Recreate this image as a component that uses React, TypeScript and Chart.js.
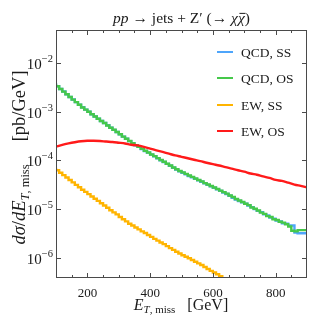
import React, { useEffect, useRef } from 'react';
import { Chart, registerables } from 'chart.js';
Chart.register(...registerables);

const SERIF = '"Liberation Serif", "DejaVu Serif", serif';

// Histogram bin edges (GeV), 10 GeV bins from 100 to 900
const binEdges: number[] = Array.from({ length: 81 }, (_, i) => 100 + 10 * i);

// QCD, OS  (pb/GeV) per bin
const qcdOS: number[] = [
  3.80e-3, 3.35e-3, 2.95e-3, 2.60e-3, 2.29e-3, 2.02e-3, 1.78e-3, 1.58e-3, 1.40e-3, 1.23e-3,
  1.11e-3, 1.00e-3, 8.9e-4, 8.0e-4, 7.2e-4, 6.5e-4, 5.9e-4, 5.25e-4, 4.7e-4, 4.27e-4,
  3.85e-4, 3.47e-4, 3.09e-4, 2.79e-4, 2.51e-4, 2.26e-4, 2.07e-4, 1.91e-4, 1.74e-4, 1.58e-4,
  1.46e-4, 1.33e-4, 1.23e-4, 1.12e-4, 1.02e-4, 9.4e-5, 8.6e-5, 7.9e-5, 7.2e-5, 6.6e-5,
  6.1e-5, 5.7e-5, 5.3e-5, 4.9e-5, 4.6e-5, 4.27e-5, 3.98e-5, 3.72e-5, 3.43e-5, 3.2e-5,
  2.99e-5, 2.79e-5, 2.6e-5, 2.4e-5, 2.24e-5, 2.09e-5, 1.91e-5, 1.78e-5, 1.62e-5, 1.51e-5,
  1.40e-5, 1.29e-5, 1.21e-5, 1.08e-5, 1.02e-5, 9.4e-6, 8.5e-6, 8.0e-6, 7.2e-6, 6.9e-6,
  6.2e-6, 6.0e-6, 5.5e-6, 5.3e-6, 4.9e-6, 4.4e-6, 3.6e-6, 3.5e-6, 3.7e-6, 3.7e-6,
];

// QCD, SS
const qcdSS: number[] = [
  3.80e-3, 3.36e-3, 2.95e-3, 2.61e-3, 2.29e-3, 2.02e-3, 1.79e-3, 1.58e-3, 1.40e-3, 1.24e-3,
  1.11e-3, 1.00e-3, 8.9e-4, 8.0e-4, 7.2e-4, 6.5e-4, 5.9e-4, 5.3e-4, 4.7e-4, 4.25e-4,
  3.85e-4, 3.45e-4, 3.1e-4, 2.8e-4, 2.5e-4, 2.25e-4, 2.05e-4, 1.9e-4, 1.72e-4, 1.57e-4,
  1.45e-4, 1.32e-4, 1.22e-4, 1.11e-4, 1.01e-4, 9.3e-5, 8.5e-5, 7.8e-5, 7.1e-5, 6.5e-5,
  6.0e-5, 5.6e-5, 5.2e-5, 4.8e-5, 4.5e-5, 4.2e-5, 3.9e-5, 3.65e-5, 3.4e-5, 3.15e-5,
  2.95e-5, 2.75e-5, 2.55e-5, 2.38e-5, 2.2e-5, 2.05e-5, 1.88e-5, 1.72e-5, 1.58e-5, 1.47e-5,
  1.38e-5, 1.30e-5, 1.19e-5, 1.10e-5, 1.00e-5, 9.2e-6, 8.7e-6, 7.8e-6, 7.4e-6, 6.7e-6,
  6.4e-6, 5.8e-6, 5.6e-6, 5.1e-6, 5.0e-6, 4.6e-6, 4.6e-6, 3.3e-6, 3.2e-6, 3.2e-6,
];

// EW, SS
const ewSS: number[] = [
  7.1e-5, 6.3e-5, 5.6e-5, 5.0e-5, 4.47e-5, 3.98e-5, 3.55e-5, 3.16e-5, 2.82e-5, 2.51e-5,
  2.26e-5, 2.04e-5, 1.82e-5, 1.64e-5, 1.48e-5, 1.32e-5, 1.19e-5, 1.07e-5, 9.5e-6, 8.6e-6,
  7.8e-6, 6.9e-6, 6.2e-6, 5.6e-6, 5.0e-6, 4.6e-6, 4.2e-6, 3.85e-6, 3.5e-6, 3.24e-6,
  2.95e-6, 2.69e-6, 2.45e-6, 2.26e-6, 2.07e-6, 1.91e-6, 1.74e-6, 1.58e-6, 1.46e-6, 1.33e-6,
  1.23e-6, 1.13e-6, 1.05e-6, 9.8e-7, 9.0e-7, 8.3e-7, 7.7e-7, 7.1e-7, 6.5e-7, 5.9e-7,
  5.4e-7, 5.0e-7, 4.6e-7, 4.2e-7, 3.8e-7, 3.5e-7, 3.2e-7, 2.9e-7, 2.66e-7, 2.45e-7,
  2.24e-7, 2.05e-7, 1.88e-7, 1.72e-7, 1.58e-7, 1.45e-7, 1.33e-7, 1.22e-7, 1.12e-7, 1.02e-7,
  9.4e-8, 8.6e-8, 7.9e-8, 7.2e-8, 6.6e-8, 6.1e-8, 5.6e-8, 5.1e-8, 4.7e-8, 4.3e-8,
];

// EW, OS (smooth curve), sampled every 20 GeV
const ewOSE: number[] = Array.from({ length: 41 }, (_, i) => 100 + 20 * i);
const ewOS: number[] = [
  1.91e-4, 2.09e-4, 2.24e-4, 2.37e-4, 2.48e-4, 2.54e-4, 2.54e-4, 2.51e-4, 2.45e-4, 2.40e-4,
  2.32e-4, 2.24e-4, 2.11e-4, 2.04e-4, 1.91e-4, 1.76e-4, 1.62e-4, 1.50e-4, 1.38e-4, 1.27e-4,
  1.19e-4, 1.11e-4, 1.035e-4, 9.7e-5, 9.0e-5, 8.4e-5, 7.9e-5, 7.3e-5, 6.8e-5, 6.3e-5,
  5.9e-5, 5.4e-5, 5.1e-5, 4.7e-5, 4.4e-5, 4.0e-5, 3.8e-5, 3.5e-5, 3.2e-5, 3.0e-5, 2.8e-5,
];

const xTickValues = [200, 400, 600, 800];
const xMinorTicks = [150, 250, 300, 350, 450, 500, 550, 650, 700, 750, 850];
const yTickExps = [-6, -5, -4, -3, -2];
const legendLabels = ['QCD, SS', 'QCD, OS', 'EW, SS', 'EW, OS'];
const seriesColors = ['#4ea5fb', '#45c84a', '#ffb400', '#ff1a1a'];
const FRAME = '#4a4a4a';
const TEXT = '#1a1a1a';

type Seg = { t: string; it?: boolean; s: number; dy?: number; over?: boolean };
const segFont = (s: Seg) => `${s.it ? 'italic ' : ''}${s.s}px ${SERIF}`;

function drawRich(ctx: CanvasRenderingContext2D, segs: Seg[], x: number, y: number, align: 'left' | 'center' | 'right') {
  let w = 0;
  for (const s of segs) { ctx.font = segFont(s); w += ctx.measureText(s.t).width; }
  let cx = align === 'left' ? x : align === 'center' ? x - w / 2 : x - w;
  ctx.textAlign = 'left';
  ctx.textBaseline = 'alphabetic';
  for (const s of segs) {
    ctx.font = segFont(s);
    const sw = ctx.measureText(s.t).width;
    ctx.fillText(s.t, cx, y + (s.dy || 0));
    if (s.over) {
      ctx.save();
      ctx.lineWidth = 1;
      ctx.strokeStyle = ctx.fillStyle as string;
      ctx.beginPath();
      ctx.moveTo(cx + 1.5, y - s.s * 0.62);
      ctx.lineTo(cx + sw + 0.5, y - s.s * 0.62);
      ctx.stroke();
      ctx.restore();
    }
    cx += sw;
  }
}

const decorPlugin = {
  id: 'decor',
  afterDatasetsDraw(chart: any) {
    const ctx: CanvasRenderingContext2D = chart.ctx;
    const { left, right, top, bottom } = chart.chartArea;
    const xs = chart.scales.x;
    const ys = chart.scales.y;
    ctx.save();
    // frame
    ctx.strokeStyle = FRAME;
    ctx.lineWidth = 1;
    ctx.strokeRect(left + 0.5, top + 0.5, right - left - 1, bottom - top - 1);
    // x ticks (inward, top & bottom)
    const drawXT = (v: number, len: number) => {
      const px = Math.round(xs.getPixelForValue(v)) + 0.5;
      ctx.beginPath();
      ctx.moveTo(px, bottom); ctx.lineTo(px, bottom - len);
      ctx.moveTo(px, top); ctx.lineTo(px, top + len);
      ctx.stroke();
    };
    xTickValues.forEach((v) => drawXT(v, 5));
    xMinorTicks.forEach((v) => drawXT(v, 3));
    // y ticks
    yTickExps.forEach((e) => {
      const py = Math.round(ys.getPixelForValue(Math.pow(10, e))) + 0.5;
      ctx.beginPath();
      ctx.moveTo(left, py); ctx.lineTo(left + 5, py);
      ctx.moveTo(right, py); ctx.lineTo(right - 5, py);
      ctx.stroke();
    });
    ctx.fillStyle = TEXT;
    // x tick labels
    xTickValues.forEach((v) => {
      const px = xs.getPixelForValue(v);
      drawRich(ctx, [{ t: String(v), s: 13 }], px, 297, 'center');
    });
    // y tick labels
    yTickExps.forEach((e) => {
      const py = ys.getPixelForValue(Math.pow(10, e));
      drawRich(ctx, [{ t: '10', s: 15 }, { t: '\u2212' + String(-e), s: 10.5, dy: -7 }], 53, py + 6, 'right');
    });
    // title
    drawRich(ctx, [
      { t: 'pp', it: true, s: 15.5 },
      { t: ' \u2192 jets + Z\u2032 (\u2192 ', s: 15.5 },
      { t: '\u03c7', it: true, s: 15.5 },
      { t: '\u03c7', it: true, s: 15.5, over: true },
      { t: ')', s: 15.5 },
    ], 181.5, 23, 'center');
    // x axis title
    drawRich(ctx, [
      { t: 'E', it: true, s: 16 },
      { t: 'T', it: true, s: 11, dy: 3 },
      { t: ', miss', s: 11, dy: 3 },
      { t: '\u2002 [GeV]', s: 16 },
    ], 181, 310, 'center');
    // y axis title
    ctx.save();
    ctx.translate(25, 157.5);
    ctx.rotate(-Math.PI / 2);
    drawRich(ctx, [
      { t: 'd\u03c3', it: true, s: 18.5 },
      { t: '/', s: 18.5 },
      { t: 'dE', it: true, s: 18.5 },
      { t: 'T', it: true, s: 12.5, dy: 3.5 },
      { t: ', miss', s: 12.5, dy: 3.5 },
      { t: '\u2003 [pb/GeV]', s: 18.5 },
    ], 0, 0, 'center');
    ctx.restore();
    // legend
    const rows = [52, 78, 105, 131];
    legendLabels.forEach((lab, i) => {
      ctx.strokeStyle = seriesColors[i];
      ctx.lineWidth = 2;
      ctx.beginPath();
      ctx.moveTo(217, rows[i]); ctx.lineTo(233, rows[i]);
      ctx.stroke();
      ctx.fillStyle = TEXT;
      drawRich(ctx, [{ t: lab, s: 13.5 }], 241, rows[i] + 4.5, 'left');
    });
    ctx.restore();
  },
};

function histPoints(vals: number[]) {
  const pts = vals.map((v, i) => ({ x: binEdges[i], y: v }));
  pts.push({ x: binEdges[vals.length], y: vals[vals.length - 1] });
  return pts;
}

export default function App() {
  const ref = useRef<HTMLCanvasElement>(null);
  useEffect(() => {
    document.body.style.margin = '0';
    const canvas = ref.current!;
    const chart = new Chart(canvas, {
      type: 'line',
      data: {
        datasets: [
          { label: legendLabels[3], data: ewOS.map((v, i) => ({ x: ewOSE[i], y: v })), borderColor: seriesColors[3], borderWidth: 2.4, pointRadius: 0, tension: 0.3 },
          { label: legendLabels[2], data: histPoints(ewSS), borderColor: seriesColors[2], borderWidth: 2.4, pointRadius: 0, stepped: 'after' },
          { label: legendLabels[1], data: histPoints(qcdOS), borderColor: seriesColors[1], borderWidth: 2.4, pointRadius: 0, stepped: 'after' },
          { label: legendLabels[0], data: histPoints(qcdSS), borderColor: seriesColors[0], borderWidth: 2.4, pointRadius: 0, stepped: 'after' },
        ] as any,
      },
      options: {
        responsive: false,
        animation: false,
        devicePixelRatio: 1,
        layout: { padding: { left: 0, right: 5, top: 30, bottom: 0 } },
        plugins: { legend: { display: false }, title: { display: false }, tooltip: { enabled: false } },
        scales: {
          x: {
            type: 'linear', min: 100, max: 900,
            grid: { display: false, drawTicks: false },
            border: { display: false },
            ticks: { display: false },
            afterFit: (s: any) => { s.height = 49; },
          },
          y: {
            type: 'logarithmic', min: 3.85e-7, max: 0.048,
            grid: { display: false, drawTicks: false },
            border: { display: false },
            ticks: { display: false },
            afterFit: (s: any) => { s.width = 56; },
          },
        },
      } as any,
      plugins: [decorPlugin],
    });
    return () => chart.destroy();
  }, []);
  return (
    <div style={{ width: 312, height: 327, background: '#fff' }}>
      <canvas ref={ref} width={312} height={327} style={{ display: 'block' }} />
    </div>
  );
}
